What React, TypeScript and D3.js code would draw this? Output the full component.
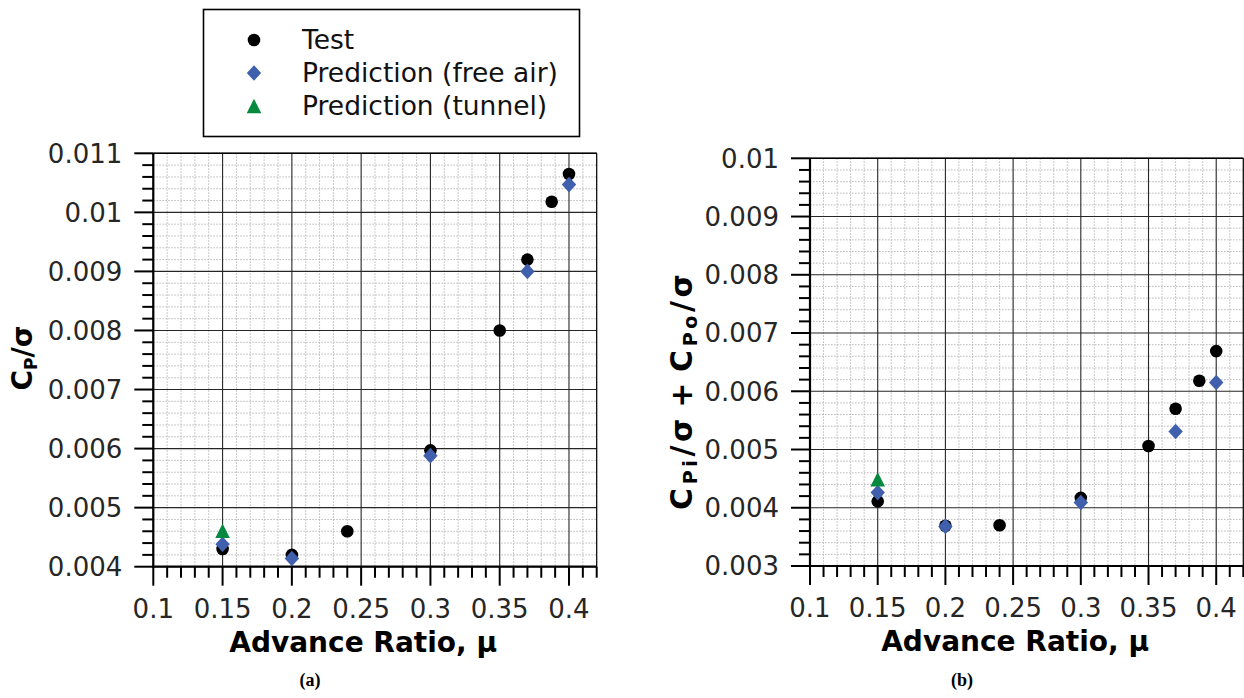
import * as d3 from 'd3';

// advance ratio of each test / prediction point
const muTest = [0.15, 0.2, 0.24, 0.3, 0.35, 0.37, 0.3875, 0.4];
const muPred = [0.15, 0.2, 0.3, 0.37, 0.4];
const muTunnel = [0.15];

// (a) Cp / sigma
const cpTest = [0.0043, 0.0042, 0.0046, 0.00597, 0.008, 0.0092, 0.01018, 0.01065];
const cpPred = [0.00438, 0.00414, 0.00588, 0.009, 0.01047];
const cpTunnel = [0.00461];

// (b) Cpi / sigma + Cpo / sigma
const cpioTest = [0.00411, 0.00369, 0.0037, 0.00417, 0.00506, 0.0057, 0.00618, 0.00669];
const cpioPred = [0.00426, 0.00368, 0.00409, 0.00531, 0.00615];
const cpioTunnel = [0.00449];

const xTicks = [0.1, 0.15, 0.2, 0.25, 0.3, 0.35, 0.4];
const yTicksA = [0.004, 0.005, 0.006, 0.007, 0.008, 0.009, 0.01, 0.011];
const yTicksB = [0.003, 0.004, 0.005, 0.006, 0.007, 0.008, 0.009, 0.01];

const legendLabels = ['Test', 'Prediction (free air)', 'Prediction (tunnel)'];

const BLUE = '#4060ad';
const GREEN = '#05893f';
const FONT = 'DejaVu Sans, sans-serif';

const fmt = (v: number) => String(+v.toFixed(4));

const circle = (cx: number, cy: number, key: string) => (
  <circle key={key} cx={cx} cy={cy} r={6.3} fill="#000" />
);
const diamond = (cx: number, cy: number, key: string) => (
  <path key={key} d={`M${cx},${cy - 7.8}L${cx + 7.2},${cy}L${cx},${cy + 7.8}L${cx - 7.2},${cy}Z`} fill={BLUE} />
);
const triangle = (cx: number, cy: number, key: string) => (
  <path key={key} d={`M${cx},${cy - 7.3}L${cx + 7.3},${cy + 7.3}L${cx - 7.3},${cy + 7.3}Z`} fill={GREEN} />
);

function Panel({ left, right, top, bottom, yDomain, yTicks, test, pred, tunnel, yLabel, labelX, labelY, labelLen, labelSize, caption, captionX }) {
  const x = d3.scaleLinear().domain([0.1, 0.42]).range([left, right]);
  const y = d3.scaleLinear().domain(yDomain).range([bottom, top]);

  const xMinor = d3.range(10, 43).filter(i => i % 5 !== 0).map(i => i / 100);
  const y0 = Math.round(yDomain[0] * 5000), y1 = Math.round(yDomain[1] * 5000);
  const yMinor = d3.range(y0, y1 + 1).filter(j => j % 5 !== 0).map(j => j / 5000);

  return (
    <g>
      {/* minor grid */}
      <g stroke="#b4b4b4" strokeWidth={0.9} strokeDasharray="1.6,1.4">
        {xMinor.map(v => <line key={'xm' + v} x1={x(v)} x2={x(v)} y1={top} y2={bottom} />)}
        {yMinor.map(v => <line key={'ym' + v} x1={left} x2={right} y1={y(v)} y2={y(v)} />)}
      </g>
      {/* major grid */}
      <g stroke="#262626" strokeWidth={1.1}>
        {xTicks.map(v => <line key={'xg' + v} x1={x(v)} x2={x(v)} y1={top} y2={bottom} />)}
        {yTicks.map(v => <line key={'yg' + v} x1={left} x2={right} y1={y(v)} y2={y(v)} />)}
      </g>
      {/* frame */}
      <line x1={left} x2={right} y1={top} y2={top} stroke="#000" strokeWidth={1.6} />
      <line x1={right} x2={right} y1={top} y2={bottom} stroke="#000" strokeWidth={1.2} />
      <line x1={left} x2={left} y1={top} y2={bottom + 1} stroke="#000" strokeWidth={2.2} />
      <line x1={left - 1} x2={right} y1={bottom} y2={bottom} stroke="#000" strokeWidth={2.2} />
      {/* ticks */}
      <g stroke="#000" strokeWidth={2}>
        {xTicks.map(v => <line key={'xt' + v} x1={x(v)} x2={x(v)} y1={bottom} y2={bottom + 19} />)}
        {xMinor.map(v => <line key={'xmt' + v} x1={x(v)} x2={x(v)} y1={bottom} y2={bottom + 11} />)}
        {yTicks.map(v => <line key={'yt' + v} x1={left - 19} x2={left} y1={y(v)} y2={y(v)} />)}
        {yMinor.map(v => <line key={'ymt' + v} x1={left - 11} x2={left} y1={y(v)} y2={y(v)} />)}
      </g>
      {/* tick labels */}
      <g fontFamily={FONT} fontSize={26} fill="#262626">
        {xTicks.map(v => (
          <text key={'xl' + v} x={x(v)} y={bottom + 51} textAnchor="middle">{fmt(v)}</text>
        ))}
        {yTicks.map(v => (
          <text key={'yl' + v} x={left - 31} y={y(v)} dy="0.36em" textAnchor="end">{fmt(v)}</text>
        ))}
      </g>
      {/* points */}
      {muTest.map((m, i) => circle(x(m), y(test[i]), 't' + i))}
      {muPred.map((m, i) => diamond(x(m), y(pred[i]), 'p' + i))}
      {muTunnel.map((m, i) => triangle(x(m), y(tunnel[i]), 'w' + i))}
      {/* axis labels */}
      <text x={x(0.25) + 2} y={bottom + 85} textAnchor="middle" fontFamily={FONT} fontWeight="bold" fontSize={28} fill="#000">
        Advance Ratio, μ
      </text>
      <text transform={`translate(${labelX},${labelY}) rotate(-90)`} textAnchor="middle" fontFamily={FONT} fontWeight="bold" fontSize={labelSize} fill="#000"
        textLength={labelLen} lengthAdjust="spacing">
        {yLabel}
      </text>
      <text x={captionX} y={686} textAnchor="middle" fontFamily="Liberation Serif, serif" fontWeight="bold" fontSize={18} fill="#000">
        {caption}
      </text>
    </g>
  );
}

const sub = (s: string, size = 17) => <tspan fontSize={size} dy={5}>{s}</tspan>;
const up = (s: string) => <tspan dy={-5}>{s}</tspan>;

export default function App() {
  const legendX = 254;
  const rows = [40, 73, 106];
  return (
    <svg width={1244} height={698} style={{ position: 'absolute', left: 0, top: 0, background: '#fff' }}>
      <Panel
        left={153.3} right={596.7} top={153.3} bottom={566.7}
        yDomain={[0.004, 0.011]} yTicks={yTicksA}
        test={cpTest} pred={cpPred} tunnel={cpTunnel}
        yLabel={<>C{sub('P')}{up('/σ')}</>}
        labelX={32} labelY={358} labelLen={undefined} labelSize={28} caption="(a)" captionX={310}
      />
      <Panel
        left={810} right={1243.3} top={158.3} bottom={566}
        yDomain={[0.003, 0.01]} yTicks={yTicksB}
        test={cpioTest} pred={cpioPred} tunnel={cpioTunnel}
        yLabel={<>C{sub('Pi', 19)}{up('/σ')}<tspan dx={7}>+</tspan><tspan dx={7}>C</tspan>{sub('Po', 19)}{up('/σ')}</>}
        labelX={692} labelY={392} labelLen={236} labelSize={30} caption="(b)" captionX={962}
      />
      {/* legend */}
      <rect x={203.5} y={9.5} width={376} height={127} fill="#fff" stroke="#000" strokeWidth={1.6} />
      {circle(legendX, rows[0], 'lc')}
      {diamond(legendX, rows[1], 'ld')}
      {triangle(legendX, rows[2], 'lt')}
      <g fontFamily={FONT} fontSize={26.5} fill="#111">
        {legendLabels.map((t, i) => (
          <text key={t} x={302} y={rows[i] + 9}>{t}</text>
        ))}
      </g>
    </svg>
  );
}
